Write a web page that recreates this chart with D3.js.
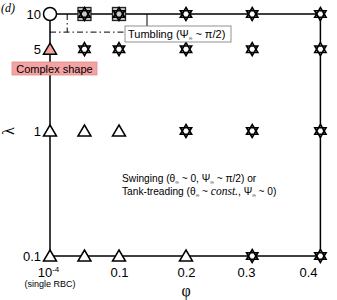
<!DOCTYPE html>
<html lang="en">
<head>
<meta charset="UTF-8">
<title>Phase diagram (d)</title>
<script src="https://d3js.org/d3.v7.min.js"></script>
<style>
  body { margin: 0; background: #fff; }
  text { font-family: "Liberation Sans", Arial, sans-serif; fill: #000; }
  .serif { font-family: "Liberation Serif", "DejaVu Serif", serif; }
</style>
</head>
<body>
<svg id="chart"></svg>
<script>
const width = 337, height = 300;

// columns (volume fraction) and rows (viscosity ratio)
const phiValues = [1e-4, 0.05, 0.1, 0.2, 0.31, 0.42];
const lambdaValues = [10, 5, 1, 0.1];
// marker type for each row, one per phi column
const row10 = ["circle", "boxstar", "boxstar", "star", "star", "star"];
const row5 = ["complex", "star", "star", "star", "star", "star"];
const row1 = ["tri", "tri", "tri", "star", "star", "star"];
const row01 = ["tri", "tri", "tri", "tri", "star", "star"];
const rows = [row10, row5, row1, row01];

const xTicks = [1e-4, 0.1, 0.2, 0.3, 0.4];
const xTickLabels = ["10", "0.1", "0.2", "0.3", "0.4"];
const yTicks = [0.1, 1, 5, 10];
const yTickLabels = ["0.1", "1", "5", "10"];

// tumbling boundary (dash-dot)
const tumbleV = { phi: 0.025, lambda: [10, 7] };
const tumbleH = { lambda: 7, phi: [1e-4, 0.108] };

const svg = d3.select('#chart')
  .attr('width', width)
  .attr('height', height);

const x = d3.scaleLinear()
  .domain([1e-4, 0.1, 0.2, 0.3, 0.4])
  .range([50, 119, 186, 246, 308]);

const y = d3.scaleLog()
  .domain([0.1, 1, 10])
  .range([256, 131, 14]);

const phiMin = d3.min(phiValues), phiMax = d3.max(phiValues);

// frame of explored region
svg.append('rect')
  .attr('x', x(phiMin))
  .attr('y', y(10))
  .attr('width', x(phiMax) - x(phiMin))
  .attr('height', y(0.1) - y(10))
  .attr('fill', 'none')
  .attr('stroke', '#000')
  .attr('stroke-width', 1.5);

// tumbling boundary lines
svg.append('line')
  .attr('x1', x(tumbleV.phi)).attr('x2', x(tumbleV.phi))
  .attr('y1', y(tumbleV.lambda[0])).attr('y2', y(tumbleV.lambda[1]))
  .attr('stroke', '#000').attr('stroke-width', 1)
  .attr('stroke-dasharray', '6,3,1.5,3');
svg.append('line')
  .attr('x1', x(tumbleH.phi[0])).attr('x2', x(tumbleH.phi[1]))
  .attr('y1', y(tumbleH.lambda)).attr('y2', y(tumbleH.lambda))
  .attr('stroke', '#000').attr('stroke-width', 1)
  .attr('stroke-dasharray', '6,3,1.5,3');

// leader line to the tumbling label
svg.append('line')
  .attr('x1', 147).attr('x2', 147)
  .attr('y1', y(10)).attr('y2', 26)
  .attr('stroke', '#000').attr('stroke-width', 1);

// axes
const xAxis = svg.append('g')
  .attr('transform', `translate(0,${y(0.1)})`)
  .call(d3.axisBottom(x).tickValues(xTicks).tickSize(0).tickPadding(12)
    .tickFormat((d, i) => xTickLabels[i]));
xAxis.select('.domain').remove();
xAxis.selectAll('text').attr('font-size', 13).attr('font-family', '"Liberation Sans", Arial, sans-serif');
xAxis.selectAll('text').filter((d, i) => i === 0)
  .attr('text-anchor', 'middle')
  .append('tspan').text('-4').attr('font-size', 8).attr('dy', '-0.6em');
xAxis.selectAll('text').filter((d, i) => i === 0).attr('dx', '-2');

const yAxis = svg.append('g')
  .attr('transform', `translate(${x(phiMin)},0)`)
  .call(d3.axisLeft(y).tickValues(yTicks).tickSize(0).tickPadding(9)
    .tickFormat((d, i) => yTickLabels[i]));
yAxis.select('.domain').remove();
yAxis.selectAll('text').attr('font-size', 13).attr('font-family', '"Liberation Sans", Arial, sans-serif');

svg.append('text')
  .attr('x', x(phiMin)).attr('y', 287)
  .attr('text-anchor', 'middle')
  .attr('font-size', 9)
  .text('(single RBC)');

svg.append('text')
  .attr('class', 'serif')
  .attr('x', x(0.2)).attr('y', 296)
  .attr('text-anchor', 'middle')
  .attr('font-size', 16)
  .text('φ');

svg.append('text')
  .attr('class', 'serif')
  .attr('transform', `translate(14,${y(1)}) rotate(-90)`)
  .attr('text-anchor', 'middle')
  .attr('font-size', 16)
  .text('λ');

svg.append('text')
  .attr('class', 'serif')
  .attr('x', 1).attr('y', 12)
  .attr('font-size', 12)
  .attr('font-style', 'italic')
  .text('(d)');

// markers
const starPath = r => {
  const pts = a => d3.range(3).map(k => {
    const t = a + k * 2 * Math.PI / 3;
    return [r * Math.sin(t), -r * Math.cos(t)];
  });
  const p1 = pts(0), p2 = pts(Math.PI);
  return 'M' + p1.join('L') + 'Z M' + p2.join('L') + 'Z';
};
const triPath = 'M0,-6 L6.5,5 L-6.5,5 Z';

const markers = [];
rows.forEach((row, i) => row.forEach((type, j) => {
  markers.push({ phi: phiValues[j], lambda: lambdaValues[i], type });
}));

const g = svg.append('g');
markers.forEach(m => {
  const mg = g.append('g').attr('transform', `translate(${x(m.phi)},${y(m.lambda)})`);
  if (m.type === 'circle') {
    mg.append('circle').attr('r', 6.5).attr('fill', '#fff')
      .attr('stroke', '#000').attr('stroke-width', 1.5);
  } else if (m.type === 'tri' || m.type === 'complex') {
    mg.append('path').attr('d', triPath)
      .attr('fill', m.type === 'complex' ? '#f4a3a3' : '#fff')
      .attr('stroke', '#000').attr('stroke-width', 1.5);
  } else {
    if (m.type === 'boxstar') {
      mg.append('rect').attr('x', -6.5).attr('y', -6.5).attr('width', 13).attr('height', 13)
        .attr('fill', '#ccc').attr('stroke', '#222').attr('stroke-width', 1.3);
    }
    mg.append('path').attr('d', starPath(6.5))
      .attr('fill', m.type === 'boxstar' ? 'none' : '#fff')
      .attr('stroke', '#000').attr('stroke-width', 1.6);
  }
});

// labels
svg.append('rect')
  .attr('x', 12).attr('y', 62).attr('width', 85).attr('height', 13)
  .attr('fill', '#f4a3a3').attr('stroke', '#e08a8a').attr('stroke-width', 0.8);
svg.append('text')
  .attr('x', 54.5).attr('y', 72.5)
  .attr('text-anchor', 'middle')
  .attr('font-size', 11)
  .text('Complex shape');

svg.append('rect')
  .attr('x', 125).attr('y', 26).attr('width', 106).attr('height', 16)
  .attr('fill', '#fff').attr('stroke', '#777').attr('stroke-width', 0.8);
const tumb = svg.append('text')
  .attr('x', 128).attr('y', 38)
  .attr('font-size', 11);
tumb.append('tspan').text('Tumbling (Ψ');
tumb.append('tspan').text('∞').attr('font-size', 5).attr('dy', 2);
tumb.append('tspan').text(' ~ π/2)').attr('dy', -2);

const swing = svg.append('text')
  .attr('x', 122).attr('y', 182)
  .attr('font-size', 10.2);
swing.append('tspan').text('Swinging (θ');
swing.append('tspan').text('∞').attr('font-size', 5).attr('dy', 2);
swing.append('tspan').text(' ~ 0, Ψ').attr('dy', -2);
swing.append('tspan').text('∞').attr('font-size', 5).attr('dy', 2);
swing.append('tspan').text(' ~ π/2) or').attr('dy', -2);

const tank = svg.append('text')
  .attr('x', 122).attr('y', 194.5)
  .attr('font-size', 10.2);
tank.append('tspan').text('Tank-treading (θ');
tank.append('tspan').text('∞').attr('font-size', 5).attr('dy', 2);
tank.append('tspan').text(' ~ ').attr('dy', -2);
tank.append('tspan').text('const.').attr('class', 'serif').attr('font-style', 'italic').attr('font-size', 11.5);
tank.append('tspan').text(', Ψ');
tank.append('tspan').text('∞').attr('font-size', 5).attr('dy', 2);
tank.append('tspan').text(' ~ 0)').attr('dy', -2);
</script>
</body>
</html>
